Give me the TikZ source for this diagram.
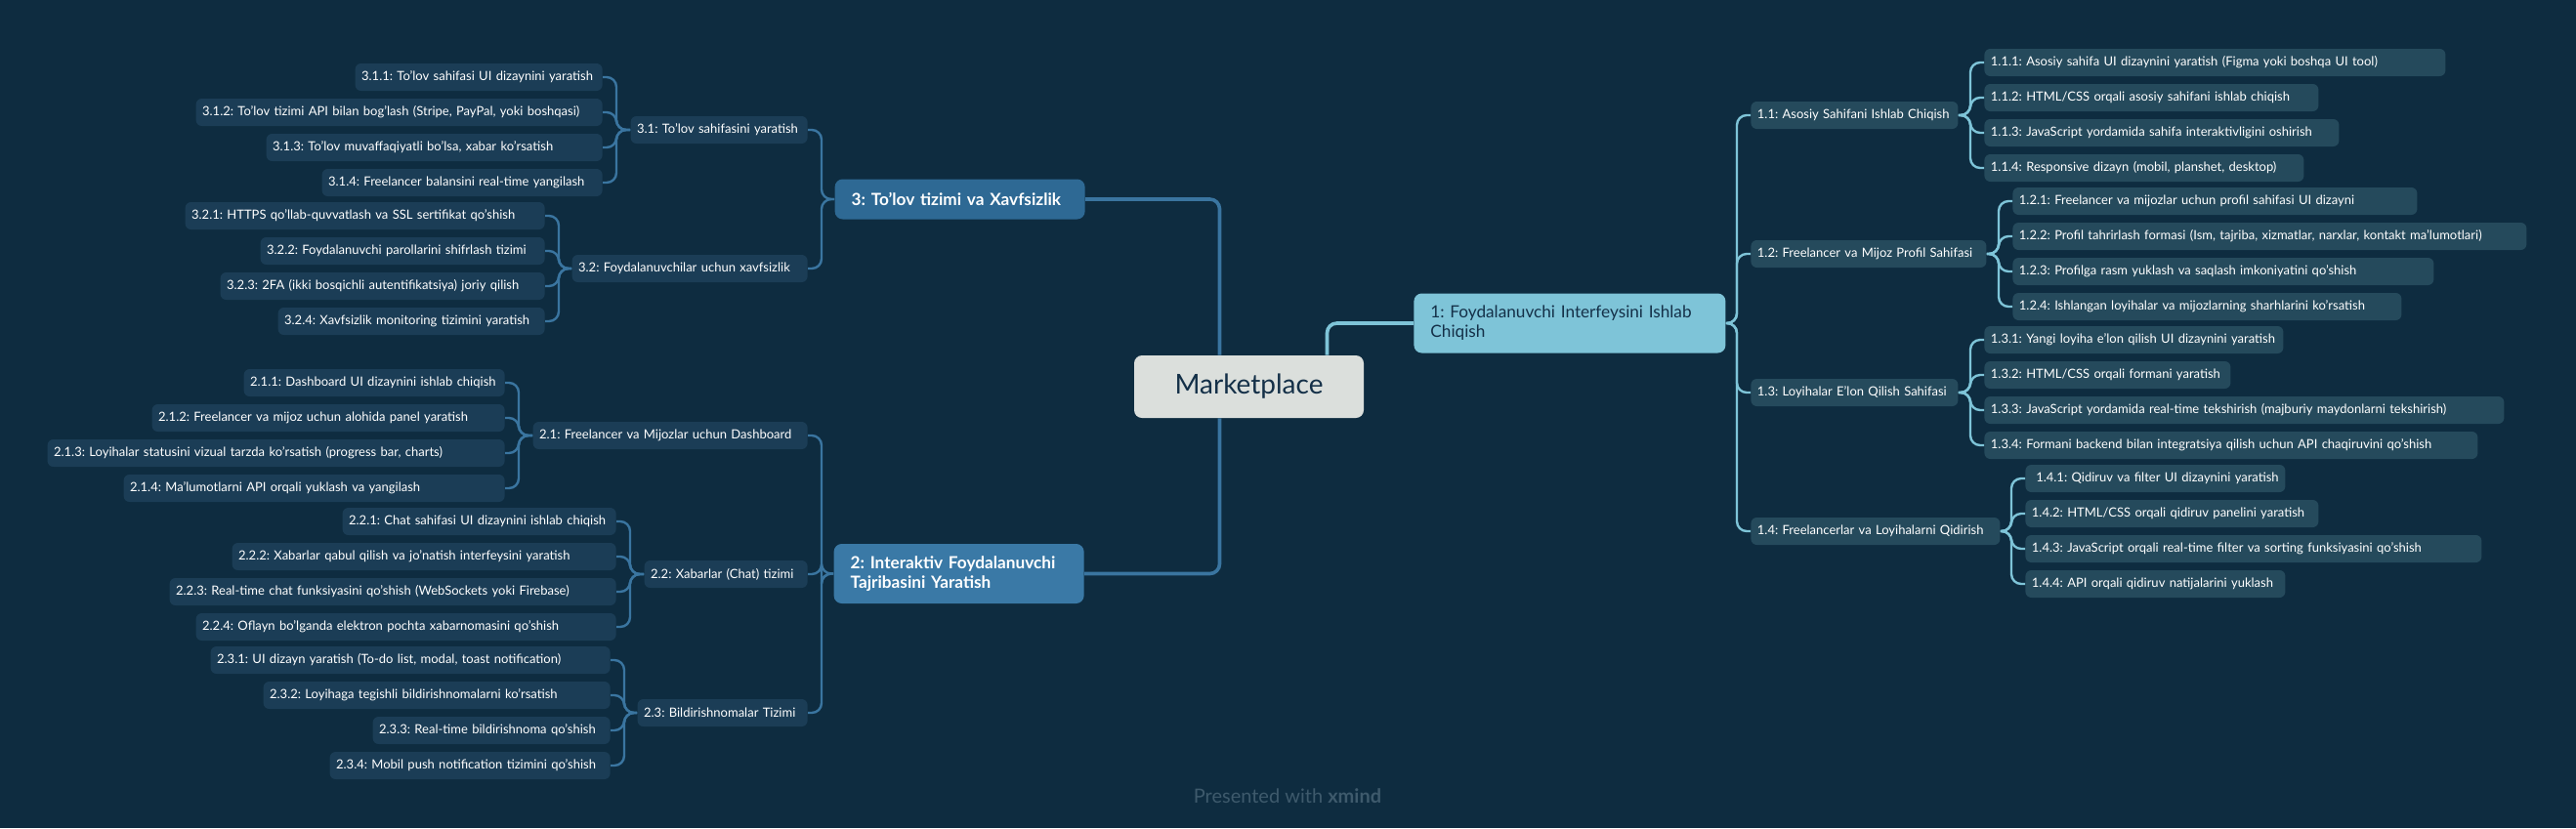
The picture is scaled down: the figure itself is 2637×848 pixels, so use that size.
\documentclass[tikz,border=0pt]{standalone}
\usepackage{fontspec}
\setmainfont{Lato}
\definecolor{Board}{RGB}{14,44,64}
\definecolor{RootFill}{RGB}{219,223,220}
\definecolor{RootText}{RGB}{20,48,72}
\definecolor{UIFill}{RGB}{126,196,216}
\definecolor{UXFill}{RGB}{58,121,166}
\definecolor{PayFill}{RGB}{46,105,148}
\definecolor{SubRight}{RGB}{37,74,92}
\definecolor{SubLeft}{RGB}{27,61,86}
\definecolor{LinkRight}{RGB}{126,196,216}
\definecolor{LinkLeft}{RGB}{58,117,160}
\definecolor{Footer}{RGB}{62,90,108}
\usetikzlibrary{calc}
\newcommand\leaffont{\fontsize{6.5}{7.5}\selectfont}
\newcommand\branchfont{\fontsize{8.6}{10}\selectfont}
\frenchspacing

\begin{document}
\begin{tikzpicture}[x=0.5pt,y=-0.5pt,
  subR/.style={fill=SubRight,rounded corners=3pt,text=white,font=\leaffont,inner xsep=3.25pt,inner ysep=0pt,minimum height=14pt,align=left,anchor=west},
  subL/.style={subR,fill=SubLeft,anchor=east},
  branch/.style={rounded corners=4pt,font=\branchfont,inner xsep=8.5pt,inner ysep=0pt,align=left},
  linkR/.style={draw=LinkRight,line width=1.2pt,rounded corners=5pt},
  linkL/.style={draw=LinkLeft,line width=1.2pt,rounded corners=5pt}]
  \fill[Board] (0,0) rectangle (2637,848);
  \useasboundingbox (0,0) rectangle (2637,848);

  % centre and main branches
  \node[fill=RootFill,text=RootText,rounded corners=4pt,minimum width=117.5pt,minimum height=32pt,font=\fontsize{14}{16}\selectfont] (root) at (1278.5,396) {Marketplace};
  \node[branch,fill=UIFill,text=RootText,text width=142.5pt,minimum height=30.5pt,anchor=west] (ui) at (1447,331) {1: Foydalanuvchi Interfeysini Ishlab\\Chiqish};
  \node[branch,fill=PayFill,text=white,text width=111pt,minimum height=20.5pt,anchor=east,font=\branchfont\bfseries] (pay) at (1111,204) {3: To'lov tizimi va Xavfsizlik};
  \node[branch,fill=UXFill,text=white,text width=111pt,minimum height=30.5pt,anchor=east,font=\branchfont\bfseries] (ux) at (1110,587.5) {2: Interaktiv Foydalanuvchi\\Tajribasini Yaratish};

  % right side
  \node[subR,text width=99.5pt] (home) at (1792,118) {1.1: Asosiy Sahifani Ishlab Chiqish};
  \node[subR,text width=114pt] (profile) at (1792,260) {1.2: Freelancer va Mijoz Profil Sahifasi};
  \node[subR,text width=99.5pt] (post) at (1792,402) {1.3: Loyihalar E'lon Qilish Sahifasi};
  \node[subR,text width=121pt] (search) at (1792,544) {1.4: Freelancerlar va Loyihalarni Qidirish};

  \node[subR,text width=229.5pt] (home1) at (2031,64) {1.1.1: Asosiy sahifa UI dizaynini yaratish (Figma yoki boshqa UI tool)};
  \node[subR,text width=164.5pt] (home2) at (2031,100) {1.1.2: HTML/CSS orqali asosiy sahifani ishlab chiqish};
  \node[subR,text width=175pt] (home3) at (2031,136) {1.1.3: JavaScript yordamida sahifa interaktivligini oshirish};
  \node[subR,text width=157pt] (home4) at (2031,172) {1.1.4: Responsive dizayn (mobil, planshet, desktop)};

  \node[subR,text width=200.5pt] (prof1) at (2060,206) {1.2.1: Freelancer va mijozlar uchun profil sahifasi UI dizayni};
  \node[subR,text width=256.5pt] (prof2) at (2060,242) {1.2.2: Profil tahrirlash formasi (Ism, tajriba, xizmatlar, narxlar, kontakt ma'lumotlari)};
  \node[subR,text width=209pt] (prof3) at (2060,278) {1.2.3: Profilga rasm yuklash va saqlash imkoniyatini qo'shish};
  \node[subR,text width=192.5pt] (prof4) at (2060,314) {1.2.4: Ishlangan loyihalar va mijozlarning sharhlarini ko'rsatish};

  \node[subR,text width=146.5pt] (post1) at (2031,348) {1.3.1: Yangi loyiha e'lon qilish UI dizaynini yaratish};
  \node[subR,text width=119.5pt] (post2) at (2031,384) {1.3.2: HTML/CSS orqali formani yaratish};
  \node[subR,text width=259.5pt] (post3) at (2031,420) {1.3.3: JavaScript yordamida real-time tekshirish (majburiy maydonlarni tekshirish)};
  \node[subR,text width=246pt] (post4) at (2031,456) {1.3.4: Formani backend bilan integratsiya qilish uchun API chaqiruvini qo'shish};

  \node[subR,text width=126.5pt] (srch1) at (2073,490) {\ 1.4.1: Qidiruv va filter UI dizaynini yaratish};
  \node[subR,text width=143.5pt] (srch2) at (2073,526) {1.4.2: HTML/CSS orqali qidiruv panelini yaratish};
  \node[subR,text width=227pt] (srch3) at (2073,562) {1.4.3: JavaScript orqali real-time filter va sorting funksiyasini qo'shish};
  \node[subR,text width=126.5pt] (srch4) at (2073,598) {1.4.4: API orqali qidiruv natijalarini yuklash};

  % left side
  \node[subL,text width=84pt] (payp) at (827,133) {3.1: To'lov sahifasini yaratish};
  \node[subL,text width=114pt] (secu) at (827,275) {3.2: Foydalanuvchilar uchun xavfsizlik};
  \node[subL,text width=134pt] (dash) at (827,446) {2.1: Freelancer va Mijozlar uchun Dashboard};
  \node[subL,text width=77pt] (chat) at (827,588) {2.2: Xabarlar (Chat) tizimi};
  \node[subL,text width=80.5pt] (notif) at (827,730) {2.3: Bildirishnomalar Tizimi};

  \node[subL,text width=120pt] (payp1) at (617,79) {3.1.1: To'lov sahifasi UI dizaynini yaratish};
  \node[subL,text width=201.5pt] (payp2) at (617,115) {3.1.2: To'lov tizimi API bilan bog'lash (Stripe, PayPal, yoki boshqasi)};
  \node[subL,text width=165.5pt] (payp3) at (617,151) {3.1.3: To'lov muvaffaqiyatli bo'lsa, xabar ko'rsatish};
  \node[subL,text width=137pt] (payp4) at (617,187) {3.1.4: Freelancer balansini real-time yangilash};

  \node[subL,text width=177.5pt] (secu1) at (558,221) {3.2.1: HTTPS qo'llab-quvvatlash va SSL sertifikat qo'shish};
  \node[subL,text width=139pt] (secu2) at (558,257) {3.2.2: Foydalanuvchi parollarini shifrlash tizimi};
  \node[subL,text width=159.5pt] (secu3) at (558,293) {3.2.3: 2FA (ikki bosqichli autentifikatsiya) joriy qilish};
  \node[subL,text width=130pt] (secu4) at (558,329) {3.2.4: Xavfsizlik monitoring tizimini yaratish};

  \node[subL,text width=127pt] (dash1) at (517,392) {2.1.1: Dashboard UI dizaynini ishlab chiqish};
  \node[subL,text width=174pt] (dash2) at (517,428) {2.1.2: Freelancer va mijoz uchun alohida panel yaratish};
  \node[subL,text width=227.5pt] (dash3) at (517,464) {2.1.3: Loyihalar statusini vizual tarzda ko'rsatish (progress bar, charts)};
  \node[subL,text width=188.5pt] (dash4) at (517,500) {2.1.4: Ma'lumotlarni API orqali yuklash va yangilash};

  \node[subL,text width=133.5pt] (chat1) at (631,534) {2.2.1: Chat sahifasi UI dizaynini ishlab chiqish};
  \node[subL,text width=190pt] (chat2) at (631,570) {2.2.2: Xabarlar qabul qilish va jo'natish interfeysini yaratish};
  \node[subL,text width=222pt] (chat3) at (631,606) {2.2.3: Real-time chat funksiyasini qo'shish (WebSockets yoki Firebase)};
  \node[subL,text width=208.5pt] (chat4) at (631,642) {2.2.4: Oflayn bo'lganda elektron pochta xabarnomasini qo'shish};

  \node[subL,text width=198pt] (note1) at (625,676) {2.3.1: UI dizayn yaratish (To-do list, modal, toast notification)};
  \node[subL,text width=171pt] (note2) at (625,712) {2.3.2: Loyihaga tegishli bildirishnomalarni ko'rsatish};
  \node[subL,text width=115pt] (note3) at (625,748) {2.3.3: Real-time bildirishnoma qo'shish};
  \node[subL,text width=137pt] (note4) at (625,784) {2.3.4: Mobil push notification tizimini qo'shish};

  \node[text=Footer,font=\fontsize{10}{12}\selectfont] (credit) at (1318,815) {Presented with \textbf{xmind}};

  % connectors
  \draw[linkR,line width=1.8pt] ($(root.north)+(80,0)$) |- (ui.west);
  \draw[linkL,line width=1.8pt] ($(root.north)+(-30,0)$) |- (pay.east);
  \draw[linkL,line width=1.8pt] ($(root.south)+(-30,0)$) |- (ux.east);
  \foreach \c in {home,profile,post,search}
    \draw[linkR] (ui.east) -| ($(\c.west)+(-14,0)$) -- (\c.west);
  \foreach \c in {1,2,3,4}{
    \draw[linkR] (home.east) -| ($(home\c.west)+(-14,0)$) -- (home\c.west);
    \draw[linkR] (profile.east) -| ($(prof\c.west)+(-14,0)$) -- (prof\c.west);
    \draw[linkR] (post.east) -| ($(post\c.west)+(-14,0)$) -- (post\c.west);
    \draw[linkR] (search.east) -| ($(srch\c.west)+(-14,0)$) -- (srch\c.west);
    \draw[linkL] (payp.west) -| ($(payp\c.east)+(14,0)$) -- (payp\c.east);
    \draw[linkL] (secu.west) -| ($(secu\c.east)+(14,0)$) -- (secu\c.east);
    \draw[linkL] (dash.west) -| ($(dash\c.east)+(14,0)$) -- (dash\c.east);
    \draw[linkL] (chat.west) -| ($(chat\c.east)+(14,0)$) -- (chat\c.east);
    \draw[linkL] (notif.west) -| ($(note\c.east)+(14,0)$) -- (note\c.east);
  }
  \foreach \c in {payp,secu}
    \draw[linkL] (pay.west) -| ($(\c.east)+(14,0)$) -- (\c.east);
  \foreach \c in {dash,chat,notif}
    \draw[linkL] (ux.west) -| ($(\c.east)+(14,0)$) -- (\c.east);
\end{tikzpicture}
\end{document}
